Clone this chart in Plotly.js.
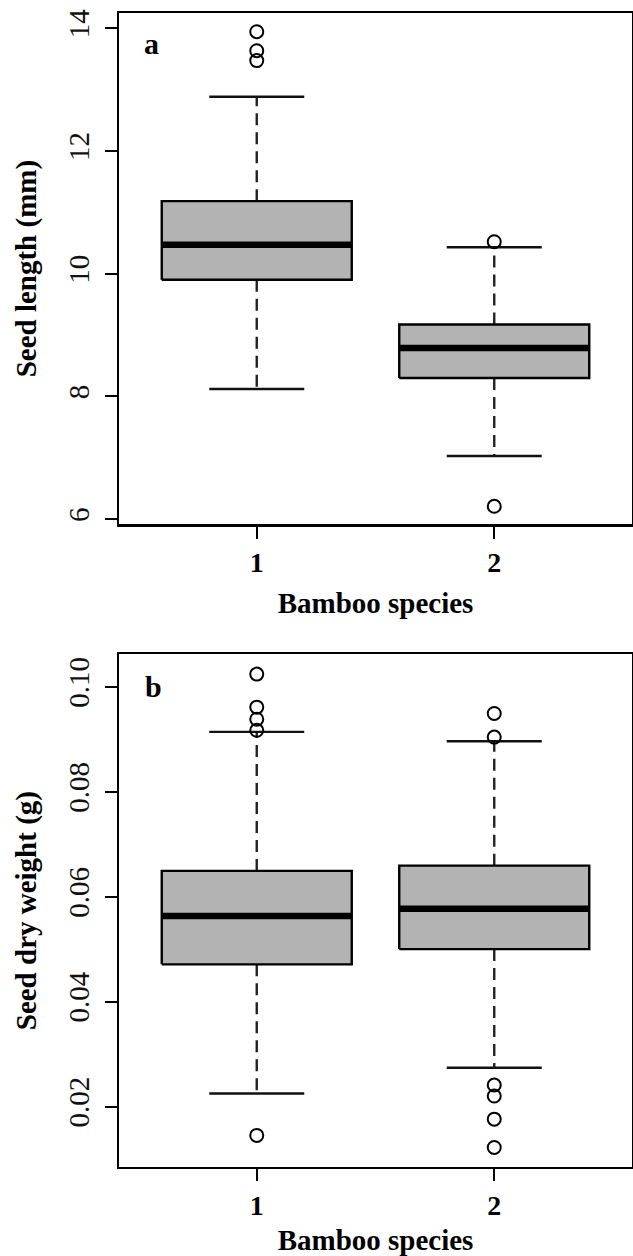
<!DOCTYPE html>
<html><head><meta charset="utf-8">
<script src="https://cdn.plot.ly/plotly-3.0.1.min.js"></script>
<style>html,body{margin:0;padding:0;background:#fff}#chart{width:633px;height:1256px}</style>
</head><body><div id="chart"></div>
<script>
// Categories
const species = [1, 2];
const speciesLabels = ['1', '2'];

// Panel a: seed length (mm)
const lenLowerWhisker = [8.12, 7.03];
const lenQ1 = [9.90, 8.30];
const lenMedian = [10.47, 8.79];
const lenQ3 = [11.18, 9.17];
const lenUpperWhisker = [12.88, 10.43];
const lenOutliers = [[13.94, 13.63, 13.47], [10.52, 6.21]];
const lenTicks = [6, 8, 10, 12, 14];

// Panel b: seed dry weight (g)
const wtLowerWhisker = [0.0225, 0.0274];
const wtQ1 = [0.0471, 0.0500];
const wtMedian = [0.0563, 0.0577];
const wtQ3 = [0.0649, 0.0659];
const wtUpperWhisker = [0.0914, 0.0896];
const wtOutliers = [[0.1024, 0.0961, 0.0938, 0.0917, 0.0145], [0.0949, 0.0904, 0.0241, 0.0220, 0.0176, 0.0122]];
const wtTicks = [0.02, 0.04, 0.06, 0.08, 0.10];

const BOXHALF = 0.4, CAPHALF = 0.2;
const FILL = '#b3b3b3';
const FONT = 'Liberation Serif';

function panelTraces(xa, ya, lo, q1, med, q3, hi, outs) {
  const tr = [];
  species.forEach((c, i) => {
    // whiskers (dashed)
    tr.push({type: 'scatter', mode: 'lines', xaxis: xa, yaxis: ya, hoverinfo: 'skip',
      x: [c, c, null, c, c], y: [q3[i], hi[i], null, q1[i], lo[i]],
      line: {color: '#222', width: 2.4, dash: '12px,7px'}});
    // caps
    tr.push({type: 'scatter', mode: 'lines', xaxis: xa, yaxis: ya, hoverinfo: 'skip',
      x: [c - CAPHALF, c + CAPHALF, null, c - CAPHALF, c + CAPHALF], y: [hi[i], hi[i], null, lo[i], lo[i]],
      line: {color: '#111', width: 2.4}});
    // box
    tr.push({type: 'scatter', mode: 'lines', xaxis: xa, yaxis: ya, fill: 'toself', fillcolor: FILL,
      x: [c - BOXHALF, c + BOXHALF, c + BOXHALF, c - BOXHALF, c - BOXHALF],
      y: [q1[i], q1[i], q3[i], q3[i], q1[i]],
      line: {color: '#000', width: 2.4}});
    // median
    tr.push({type: 'scatter', mode: 'lines', xaxis: xa, yaxis: ya,
      x: [c - BOXHALF, c + BOXHALF], y: [med[i], med[i]],
      line: {color: '#000', width: 6.5}});
    // outliers
    tr.push({type: 'scatter', mode: 'markers', xaxis: xa, yaxis: ya,
      x: outs[i].map(() => c), y: outs[i],
      marker: {symbol: 'circle-open', size: 13, color: '#000', line: {width: 2, color: '#000'}}});
  });
  return tr;
}

const data = [].concat(
  panelTraces('x', 'y', lenLowerWhisker, lenQ1, lenMedian, lenQ3, lenUpperWhisker, lenOutliers),
  panelTraces('x2', 'y2', wtLowerWhisker, wtQ1, wtMedian, wtQ3, wtUpperWhisker, wtOutliers)
);

function xAxis(anchor) {
  return {anchor: anchor, domain: [0, 1], range: [0.42, 2.58], tickvals: species, ticktext: speciesLabels,
    showline: true, mirror: true, linecolor: '#000', linewidth: 2.4, showgrid: false, zeroline: false,
    ticks: 'outside', ticklen: 12, tickwidth: 2, tickcolor: '#000',
    tickfont: {family: FONT, size: 28, color: '#000', weight: 'bold'},
    title: {text: 'Bamboo species', font: {family: FONT, size: 29, color: '#000', weight: 'bold'}, standoff: 16}};
}
function yAxis(anchor, domain, range, ticks, fmt, title) {
  return {anchor: anchor, domain: domain, range: range, tickvals: ticks, tickformat: fmt,
    showline: true, mirror: true, linecolor: '#000', linewidth: 2.4, showgrid: false, zeroline: false,
    ticks: 'outside', ticklen: 12, tickwidth: 2, tickcolor: '#000', tickangle: -90,
    ticklabelstandoff: 4,
    tickfont: {family: FONT, size: 29, color: '#111'},
    title: {text: title, font: {family: FONT, size: 29, color: '#000', weight: 'bold'}, standoff: 18}};
}

const layout = {
  width: 633, height: 1256, showlegend: false,
  paper_bgcolor: '#fff', plot_bgcolor: '#fff',
  margin: {l: 119, r: 1, t: 13, b: 89},
  xaxis: xAxis('y'),
  yaxis: yAxis('x', [0.557, 1], [5.918, 14.245], lenTicks, 'd', 'Seed length (mm)'),
  xaxis2: xAxis('y2'),
  yaxis2: yAxis('x2', [0, 0.4443], [0.00848, 0.10618], wtTicks, '.2f', 'Seed dry weight (g)'),
  annotations: [
    {xref: 'x domain', yref: 'y domain', x: 0.044, y: 0.941, xanchor: 'left', yanchor: 'middle', showarrow: false,
      text: 'a', font: {family: FONT, size: 30, color: '#000', weight: 'bold'}},
    {xref: 'x2 domain', yref: 'y2 domain', x: 0.046, y: 0.937, xanchor: 'left', yanchor: 'middle', showarrow: false,
      text: 'b', font: {family: FONT, size: 30, color: '#000', weight: 'bold'}}
  ]
};

Plotly.newPlot('chart', data, layout, {staticPlot: true, displayModeBar: false});
</script></body></html>
